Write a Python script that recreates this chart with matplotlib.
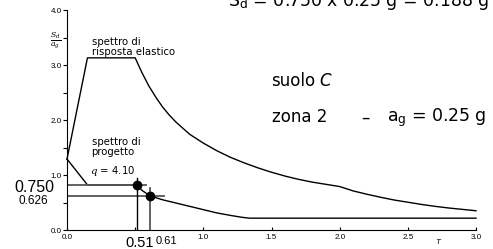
import matplotlib.pyplot as plt

# Elastic response spectrum (Sd/ag vs T)
t_elastic = [0.0, 0.15, 0.50, 0.55, 0.60, 0.65, 0.70, 0.75, 0.80, 0.90, 1.00, 1.10,
             1.20, 1.30, 1.40, 1.50, 1.60, 1.70, 1.80, 1.90, 2.00, 2.10, 2.20, 2.30,
             2.40, 2.50, 2.60, 2.70, 2.80, 2.90, 3.00]
s_elastic = [1.29, 3.13, 3.13, 2.86, 2.62, 2.42, 2.24, 2.09, 1.96, 1.74, 1.58, 1.44,
             1.32, 1.22, 1.13, 1.05, 0.98, 0.92, 0.87, 0.83, 0.79, 0.71, 0.65, 0.595,
             0.545, 0.505, 0.465, 0.43, 0.40, 0.375, 0.35]

# Design spectrum (q = 4.10)
t_design = [0.0, 0.15, 0.51, 0.55, 0.61, 0.70, 0.80, 0.90, 1.00, 1.10, 1.20, 1.28,
            1.34, 3.00]
s_design = [1.29, 0.82, 0.82, 0.72, 0.62, 0.55, 0.49, 0.43, 0.37, 0.31, 0.265, 0.232,
            0.215, 0.215]

# Marked periods and the spectrum values drawn at them
t_marks = [0.51, 0.61]
s_marks = [0.82, 0.62]
t_labels = ["0.51", "0.61"]
s_labels = ["0.750", "0.626"]

x_ticks = [0.0, 0.5, 1.0, 1.5, 2.0, 2.5, 3.0]
x_ticklabels = ["0.0", "", "1.0", "1.5", "2.0", "2.5", "3.0"]
y_ticks = [0.0, 0.5, 1.0, 1.5, 2.0, 2.5, 3.0, 3.5, 4.0]
y_ticklabels = ["0.0", "", "1.0", "", "2.0", "", "3.0", r"$\frac{S_d}{a_g}$", "4.0"]

plt.rcParams["font.family"] = ["Liberation Sans", "DejaVu Sans"]
plt.rcParams["mathtext.fontset"] = "dejavuserif"
note_font = "DejaVu Sans"

W, H = 493, 249
fig = plt.figure(figsize=(W / 100, H / 100), dpi=100)
ax = fig.add_axes([67 / W, 19 / H, 409 / W, 220 / H])

ax.plot(t_elastic, s_elastic, color="black", lw=1.0, clip_on=False)
ax.plot(t_design, s_design, color="black", lw=1.0, clip_on=False)

# guide lines for the marked points
grey = "#555555"
ax.plot([0, t_marks[0] + 0.07], [s_marks[0]] * 2, color=grey, lw=1.3)
ax.plot([0, t_marks[1] + 0.10], [s_marks[1]] * 2, color=grey, lw=1.3)
ax.plot([t_marks[0]] * 2, [0, s_marks[0] + 0.13], color="black", lw=1.0)
ax.plot([t_marks[1]] * 2, [0, s_marks[1] + 0.14], color=grey, lw=1.3)
ax.plot(t_marks, s_marks, "o", color="black", ms=6, zorder=5)

ax.set_xlim(0, 3.0)
ax.set_ylim(0, 4.0)
ax.spines["top"].set_visible(False)
ax.spines["right"].set_visible(False)
ax.set_xticks(x_ticks)
ax.set_xticklabels(x_ticklabels)
ax.set_yticks(y_ticks)
ax.set_yticklabels(y_ticklabels)
ax.tick_params(axis="x", direction="in", length=2, labelsize=5.8, pad=3)
ax.tick_params(axis="y", direction="out", length=3, labelsize=5.8, pad=1)
for lab in ax.get_yticklabels():
    if "S_d" in lab.get_text():
        lab.set_fontsize(8)
ax.text(2.72, -0.22, "T", fontsize=5.8, style="italic", ha="center", va="center")

# value labels at the marked points
ax.text(-0.09, s_marks[0] - 0.05, s_labels[0], fontsize=11.5, ha="right", va="center")
ax.text(-0.14, s_marks[1] - 0.1, s_labels[1], fontsize=8.5, ha="right", va="center")
ax.text(t_marks[0] + 0.025, -0.23, t_labels[0], fontsize=10.5, ha="center", va="center")
ax.text(t_marks[1] + 0.12, -0.20, t_labels[1], fontsize=8, ha="center", va="center")

# annotations
ax.text(0.18, 3.33, "spettro di\nrisposta elastico", fontsize=7.3, va="center",
        linespacing=1.0, family=note_font)
ax.text(0.18, 1.51, "spettro di\nprogetto", fontsize=7.3, va="center",
        linespacing=1.0, family=note_font)
ax.text(0.17, 1.07, "$q$ = 4.10", fontsize=7.3, va="center", family=note_font)
ax.text(1.50, 2.71, "suolo", fontsize=12, va="center", family=note_font)
ax.text(1.85, 2.71, "C", fontsize=12, va="center", style="italic", family=note_font)
ax.text(1.50, 2.05, "zona 2", fontsize=12, va="center", family=note_font)
ax.text(2.16, 2.05, "\u2013", fontsize=12, va="center", family=note_font)
ax.text(2.35, 2.05, r"a$_\mathsf{g}$ = 0.25 g", fontsize=12.5, va="center",
        family=note_font)

fig.text(228 / W, 1 - 2 / H, r"S$_\mathsf{d}$ = 0.750 x 0.25 g = 0.188 g",
         fontsize=12.5, va="center", ha="left", family=note_font)

fig.savefig("out.png", dpi=100)
